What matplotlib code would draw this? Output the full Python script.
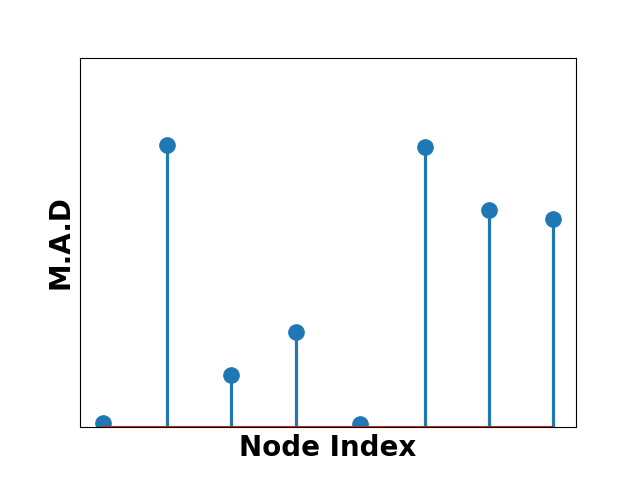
import numpy as np
import matplotlib
matplotlib.use('Agg')
import matplotlib.pyplot as plt

# indeks node dan nilai M.A.D
node_index = np.arange(8)
nilai_mad = [0.04, 2.82, 0.52, 0.95, 0.03, 2.80, 2.17, 2.08]

fig, ax = plt.subplots(figsize=(6.4, 4.8), dpi=100)
markerline, stemlines, baseline = ax.stem(node_index, nilai_mad)
plt.setp(markerline, markersize=11, color='#1f77b4')
plt.setp(stemlines, linewidth=2.3, color='#1f77b4')
plt.setp(baseline, color='#d62728', linewidth=1.5)

ax.set_ylim(0, 3.69)
ax.set_xticks([])
ax.set_yticks([])
ax.set_xlabel('Node Index', fontsize=20, fontweight='bold', labelpad=5)
ax.set_ylabel('M.A.D', fontsize=20, fontweight='bold', labelpad=4)

plt.savefig('out.png', dpi=100)
